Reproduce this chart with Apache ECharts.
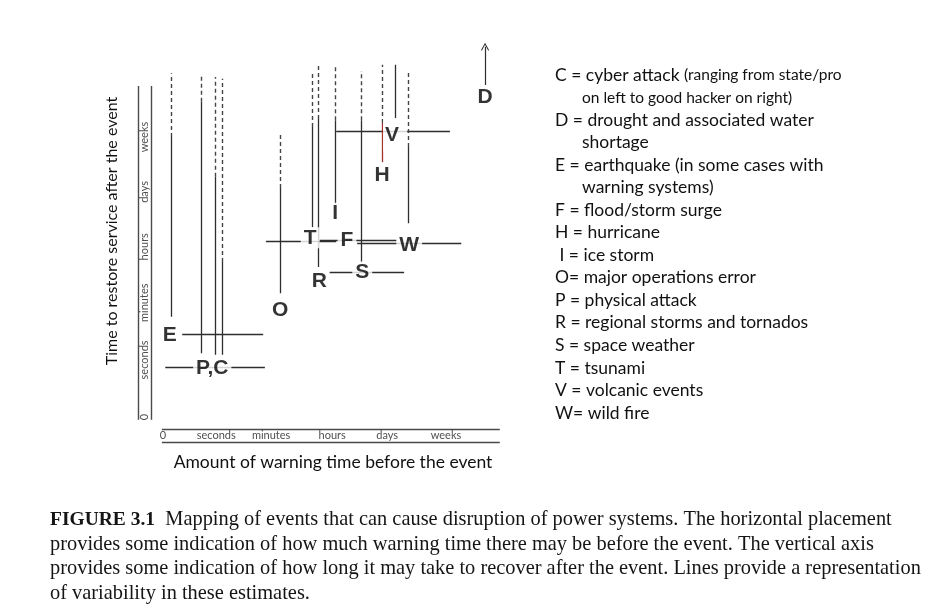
<!DOCTYPE html>
<html><head><meta charset="utf-8">
<script src="https://cdn.jsdelivr.net/npm/echarts/dist/echarts.min.js"></script>
<style>html,body{margin:0;padding:0;background:#fff}#c{width:937px;height:611px}</style>
</head><body><div id="c"></div>
<script>
// ---- tick labels (schematic log-like scale: 0, seconds ... weeks) ----
const xTickLabels = ['0','seconds','minutes','hours','days','weeks'];
const xTickPos    = [0, 0.94, 1.91, 2.99, 3.96, 5.0];
const yTickLabels = ['0','seconds','minutes','hours','days','weeks'];
const yTickPos    = [0, 1.02, 2.04, 3.04, 4.02, 5.0];

// ---- events: label positions (x = warning time, y = time to restore) ----
const eventCodes = ['E','P,C','O','T','R','F','W','S','I','V','H','D'];
const eventX     = [0.12,0.87,2.07,2.60,2.76,3.25,4.35,3.52,3.04,4.10,3.87,5.69];
const eventY     = [1.46,0.88,1.91,3.20,2.43,3.16,3.07,2.59,3.64,5.04,4.32,5.71];

// ---- horizontal spans: variability of warning time ----
const hEvent = ['E','P,C','T','F','W','S','V'];
const hY     = [1.48,0.88,3.13,3.15,3.10,2.59,5.11];
const hFrom  = [0.34,0.04,1.82,2.77,3.43,2.93,3.06];
const hTo    = [1.77,1.80,3.06,4.13,5.27,4.26,5.07];

// ---- vertical spans: variability of restore time (solid, then dashed extension) ----
const vEvent   = ['E','P','C','C','O','T','R','W','S','I','V','H'];
const vX       = [0.14,0.67,0.93,1.05,2.07,2.64,2.74,4.33,3.51,3.04,4.10,3.87];
const vFrom    = [1.79,1.14,1.11,1.11,2.21,3.39,2.68,3.46,2.77,3.80,5.34,4.55];
const vSolidTo = [5.00,5.63,4.29,2.77,4.09,5.18,5.32,4.82,5.30,5.30,6.29,5.25];
const vDashTo  = [6.14,6.11,6.07,6.04,5.05,6.16,6.32,6.16,6.18,6.29,6.29,6.29];

// ---- drought: open-ended arrow ----
const dArrowFrom = 5.93, dArrowTo = 6.61;

// ---- axis frame (double rules) ----
const xRuleY = [-0.21, -0.45], xRuleFrom = -0.02, xRuleTo = 5.95;
const yRuleX = [-0.44, -0.21], yRuleFrom = -0.05, yRuleTo = 5.91;
const xTickRow = -0.33, yTickCol = -0.33;

const legendLines = [
 'C = cyber attack {s|(ranging from state/pro}',
 '{s|on left to good hacker on right)}',
 'D = drought and associated water',
 'shortage',
 'E = earthquake (in some cases with',
 'warning systems)',
 'F = flood/storm surge',
 'H = hurricane',
 ' I = ice storm',
 'O= major operations error',
 'P = physical attack',
 'R = regional storms and tornados',
 'S = space weather',
 'T = tsunami',
 'V = volcanic events',
 'W= wild fire'
];
const legendIndent = [0,1,0,1,0,1,0,0,0,0,0,0,0,0,0,0];

const captionLines = [
 '{b|FIGURE 3.1}  Mapping of events that can cause disruption of power systems. The horizontal placement',
 'provides some indication of how much warning time there may be before the event. The vertical axis',
 'provides some indication of how long it may take to recover after the event. Lines provide a representation',
 'of variability in these estimates.'
];

const LINE = '#2e2e2e';
const frameData = [];
xRuleY.forEach(y => frameData.push({coords: [[xRuleFrom, y], [xRuleTo, y]]}));
yRuleX.forEach(x => frameData.push({coords: [[x, yRuleFrom], [x, yRuleTo]]}));

const hData = hY.map((y, i) => ({coords: [[hFrom[i], y], [hTo[i], y]]}));
const vSolid = vX.map((x, i) => ({
  coords: [[x, vFrom[i]], [x, vSolidTo[i]]],
  lineStyle: {color: vEvent[i] === 'H' ? '#a3342c' : LINE}
}));
const vDash = [];
vX.forEach((x, i) => { if (vDashTo[i] > vSolidTo[i]) vDash.push({coords: [[x, vSolidTo[i]], [x, vDashTo[i]]]}); });
const dx = eventX[eventCodes.indexOf('D')];

const labelData = eventCodes.map((c, i) => {
  const item = {name: c, value: [eventX[i], eventY[i]]};
  if (c === 'V') item.label = {padding: [12, 8, 4, 2]};
  return item;
});

const graphics = [];
legendLines.forEach((t, i) => {
  graphics.push({type: 'text', x: 555 + legendIndent[i] * 27, y: 75 + i * 22.53,
    style: {text: t, fontFamily: 'Lato', fontSize: 17.5, fill: '#111', verticalAlign: 'middle',
      rich: {s: {fontFamily: 'Lato', fontSize: 15.5, fill: '#111'}}}});
});
captionLines.forEach((t, i) => {
  graphics.push({type: 'text', x: 50, y: 520 + i * 24.4,
    style: {text: t, fontFamily: 'Liberation Serif', fontSize: 20.4, fill: '#151515', verticalAlign: 'middle',
      rich: {b: {fontFamily: 'Liberation Serif', fontSize: 19.5, fontWeight: 'bold', fill: '#151515'}}}});
});
graphics.push({type: 'text', x: 112, y: 231, rotation: Math.PI / 2,
  style: {text: 'Time to restore service after the event', fontFamily: 'Lato', fontSize: 16, fill: '#111',
    align: 'center', verticalAlign: 'middle'}});
graphics.push({type: 'text', x: 333, y: 462,
  style: {text: 'Amount of warning time before the event', fontFamily: 'Lato', fontSize: 17.5, fill: '#111',
    align: 'center', verticalAlign: 'middle'}});

const chart = echarts.init(document.getElementById('c'));
chart.setOption({
  animation: false,
  backgroundColor: '#fff',
  grid: {left: 106.4, top: 25, width: 452.8, height: 448},
  xAxis: {type: 'value', min: -1, max: 7, show: false},
  yAxis: {type: 'value', min: -1, max: 7, show: false},
  graphic: graphics,
  series: [
    {type: 'lines', coordinateSystem: 'cartesian2d', z: 2, silent: true,
     lineStyle: {color: '#4a4a4a', width: 1.4, opacity: 1}, data: frameData},
    {type: 'lines', coordinateSystem: 'cartesian2d', z: 3, silent: true,
     lineStyle: {color: LINE, width: 1.3, opacity: 1}, data: hData},
    {type: 'lines', coordinateSystem: 'cartesian2d', z: 3, silent: true,
     lineStyle: {color: LINE, width: 1.3, opacity: 1}, data: vSolid},
    {type: 'lines', coordinateSystem: 'cartesian2d', z: 3, silent: true,
     lineStyle: {color: '#444', width: 1.4, opacity: 1, type: [4, 3]}, data: vDash},
    {type: 'lines', coordinateSystem: 'cartesian2d', z: 3, silent: true,
     symbol: ['none', 'path://M0,9 L5,0 L10,9 L9,10 L5,2.5 L1,10 Z'], symbolSize: [8, 8],
     lineStyle: {color: LINE, width: 1.2, opacity: 1},
     data: [{coords: [[dx, dArrowFrom], [dx, dArrowTo]]}]},
    {type: 'scatter', z: 10, symbolSize: 1, itemStyle: {color: 'rgba(0,0,0,0)'}, silent: true,
     label: {show: true, position: 'inside', formatter: '{b}', fontFamily: 'Liberation Sans', fontWeight: 'bold',
       fontSize: 21, color: '#000', backgroundColor: '#fff', padding: [2, 3], lineHeight: 17},
     data: labelData},
    {type: 'scatter', z: 10, symbolSize: 1, itemStyle: {color: 'rgba(0,0,0,0)'}, silent: true,
     label: {show: true, position: 'inside', formatter: '{b}', fontFamily: 'Lato', fontSize: 11, color: '#222'},
     data: xTickLabels.map((t, i) => ({name: t, value: [xTickPos[i], xTickRow]}))},
    {type: 'scatter', z: 10, symbolSize: 1, itemStyle: {color: 'rgba(0,0,0,0)'}, silent: true,
     label: {show: true, position: 'inside', formatter: '{b}', fontFamily: 'Lato', fontSize: 11, color: '#222', rotate: 90},
     data: yTickLabels.map((t, i) => ({name: t, value: [yTickCol, yTickPos[i]]}))}
  ]
});
</script></body></html>
